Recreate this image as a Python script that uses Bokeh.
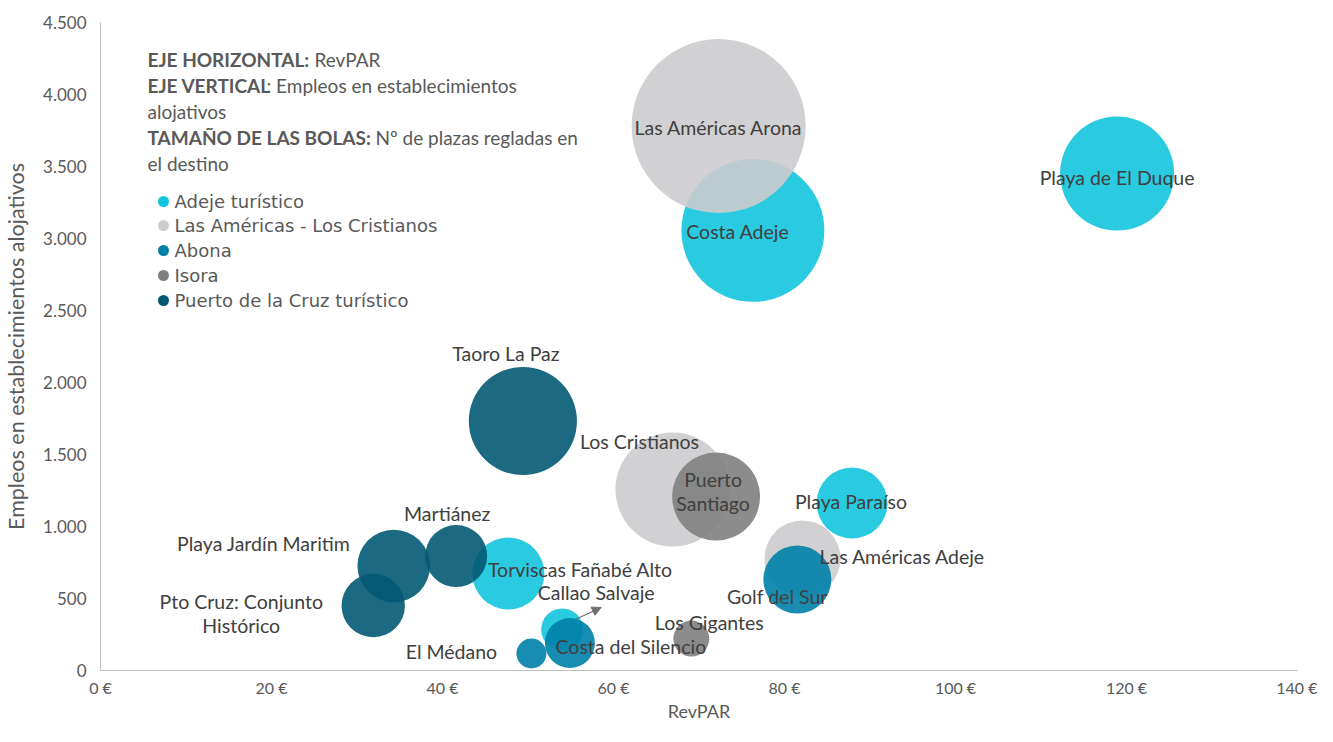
import numpy as np
import pandas as pd
from bokeh.plotting import figure
from bokeh.models import ColumnDataSource, Range1d, FixedTicker, Arrow, NormalHead
from bokeh.core.properties import value
from bokeh.embed import file_html
from bokeh.resources import INLINE

# ---------------- data ----------------
categories = ["Adeje turístico", "Las Américas - Los Cristianos", "Abona", "Isora",
              "Puerto de la Cruz turístico"]
cat_colors = ["#13C4DE", "#CCCBCD", "#0080A8", "#7F7F7F", "#035974"]

names = ["Costa Adeje", "Playa de El Duque", "Playa Paraíso", "Torviscas Fañabé Alto",
         "Callao Salvaje",
         "Las Américas Arona", "Los Cristianos", "Las Américas Adeje",
         "Golf del Sur", "Costa del Silencio", "El Médano",
         "Puerto Santiago", "Los Gigantes",
         "Taoro La Paz", "Martiánez", "Playa Jardín Maritim", "Pto Cruz: Conjunto Histórico"]
zona = ["Adeje turístico"] * 5 + ["Las Américas - Los Cristianos"] * 3 + ["Abona"] * 3 + \
       ["Isora"] * 2 + ["Puerto de la Cruz turístico"] * 4
revpar = [76.3, 118.9, 87.9, 47.7, 54.0,
          72.3, 66.9, 82.1,
          81.5, 54.9, 50.4,
          72.0, 69.1,
          49.4, 41.6, 34.3, 31.9]
empleos = [3056, 3451, 1163, 674, 285,
           3781, 1257, 778,
           632, 191, 118,
           1208, 222,
           1733, 795, 726, 451]
plazas = [26400, 16800, 6510, 6690, 2280,
          39100, 16800, 7460,
          5970, 3230, 1160,
          10000, 1670,
          15100, 4960, 6810, 5190]

x_ticks = [0, 20, 40, 60, 80, 100, 120, 140]
x_tick_labels = ["0 €", "20 €", "40 €", "60 €", "80 €", "100 €", "120 €", "140 €"]
y_ticks = [0, 500, 1000, 1500, 2000, 2500, 3000, 3500, 4000, 4500]
y_tick_labels = ["0", "500", "1.000", "1.500", "2.000", "2.500", "3.000", "3.500", "4.000", "4.500"]

# ---------------- layout / style ----------------
W, H = 1317, 726
BL, BR, BT, BB = 100, 20, 22, 56
FW, FH = W - BL - BR, H - BT - BB
X0, X1, Y0, Y1 = 0, 140, 0, 4500
XPP = (X1 - X0) / FW
YPP = (Y1 - Y0) / FH

def sx(dx):
    return X0 + dx * XPP

def sy(dy):
    return Y1 - dy * YPP

# label offsets (px) from bubble centre to label centre (dy positive = down)
label_texts = ["Costa Adeje", "Playa de El Duque", "Playa Paraíso", "Torviscas Fañabé Alto",
               "Callao Salvaje", "Las Américas Arona", "Los Cristianos", "Las Américas Adeje",
               "Golf del Sur", "Costa del Silencio", "El Médano", "Puerto\nSantiago",
               "Los Gigantes", "Taoro La Paz", "Martiánez", "Playa Jardín Maritim",
               "Pto Cruz: Conjunto\nHistórico"]
label_dx = [-15, 0, -1, 72, 34, 0, -33, 100, -20, 61, -80, -3, 18, -17, -9, -130, -132]
label_dy = [1, 4, -2, -4, -37, 1, -48, -2, 17, 4, -2, -5, -16, -67, -43, -22, 8]

SIZE_K = 0.88
ALPHA = 0.9
TXT = "#404040"
AX = "#595959"
FONT = "Lato"

df = pd.DataFrame(dict(name=names, zona=zona, revpar=revpar, empleos=empleos, plazas=plazas,
                       label=label_texts, ldx=label_dx, ldy=label_dy))
df["size"] = SIZE_K * np.sqrt(df["plazas"])
df["lx"] = df["revpar"] + df["ldx"] * XPP
df["ly"] = df["empleos"] - df["ldy"] * YPP

p = figure(width=W, height=H, x_range=Range1d(X0, X1), y_range=Range1d(Y0, Y1),
           output_backend="svg", toolbar_location=None,
           min_border_left=BL, min_border_right=BR, min_border_top=BT, min_border_bottom=BB)
p.outline_line_color = None
p.xgrid.visible = False
p.ygrid.visible = False
p.background_fill_color = "white"
p.border_fill_color = "white"

for ax in (p.xaxis[0], p.yaxis[0]):
    ax.axis_line_color = "#BFBFBF"
    ax.axis_line_width = 1
    ax.major_tick_line_color = None
    ax.minor_tick_line_color = None
    ax.major_tick_out = 0
    ax.major_tick_in = 0
    ax.major_label_text_color = AX
    ax.major_label_text_font = FONT
    ax.axis_label_text_color = AX
    ax.axis_label_text_font = FONT
    ax.axis_label_text_font_style = "normal"

p.xaxis.ticker = FixedTicker(ticks=x_ticks)
p.xaxis.major_label_overrides = dict(zip(x_ticks, x_tick_labels))
p.yaxis.ticker = FixedTicker(ticks=y_ticks)
p.yaxis.major_label_overrides = dict(zip(y_ticks, y_tick_labels))
p.xaxis.axis_label = "RevPAR"
p.yaxis.axis_label = "Empleos en establecimientos alojativos"
p.xaxis.major_label_text_font_size = "16px"
p.yaxis.major_label_text_font_size = "17px"
p.xaxis.axis_label_text_font_size = "18px"
p.yaxis.axis_label_text_font_size = "21.5px"
p.xaxis.major_label_standoff = 7
p.xaxis.axis_label_standoff = 0
p.yaxis.major_label_standoff = 14
p.yaxis.axis_label_standoff = 11

# bubbles, in series order
for cat, col in zip(categories, cat_colors):
    sub = df[df["zona"] == cat]
    src = ColumnDataSource(sub)
    p.scatter("revpar", "empleos", size="size", source=src, fill_color=col,
              fill_alpha=ALPHA, line_color=None)

# bubble labels
lsrc = ColumnDataSource(df)
p.text("lx", "ly", text="label", source=lsrc, text_font=value(FONT), text_font_size="19.5px",
       text_color=TXT, text_align="center", text_baseline="middle", text_line_height=1.05)

# leader arrow for Callao Salvaje
ci = names.index("Callao Salvaje")
cx, cy = revpar[ci], empleos[ci]
p.add_layout(Arrow(end=NormalHead(size=9, fill_color="#6F6F6F", line_color="#6F6F6F"),
                   x_start=cx + 13 * XPP, y_start=cy + 10 * YPP,
                   x_end=cx + 39 * XPP, y_end=cy + 22 * YPP,
                   line_color="#6F6F6F", line_width=1.2))

# explanatory note (bold + normal parts)
note_parts = [
    ("EJE HORIZONTAL:", "bold", 47, 37), ("RevPAR", "normal", 214, 37),
    ("EJE VERTICAL", "bold", 47, 63), (": Empleos en establecimientos", "normal", 166, 63),
    ("alojativos", "normal", 47, 89),
    ("TAMAÑO DE LAS BOLAS:", "bold", 47, 115), ("Nº de plazas regladas en", "normal", 275, 115),
    ("el destino", "normal", 47, 141),
]
for txt, style, dx, dy in note_parts:
    p.text([sx(dx)], [sy(dy)], text=[txt], text_font=value(FONT), text_font_size="19px",
           text_font_style=style, text_color=AX, text_align="left", text_baseline="middle")

# legend (manual)
leg_dy = [179, 203, 228, 253, 278]
lg = ColumnDataSource(dict(x=[sx(63)] * 5, tx=[sx(74)] * 5, y=[sy(d) for d in leg_dy],
                           cat=categories, color=cat_colors))
p.scatter("x", "y", source=lg, size=11, fill_color="color", line_color=None)
p.text("tx", "y", text="cat", source=lg, text_font=value("DejaVu Sans"), text_font_size="18px",
       text_color=AX, text_align="left", text_baseline="middle")

open("out.html", "w").write(file_html(p, INLINE))
